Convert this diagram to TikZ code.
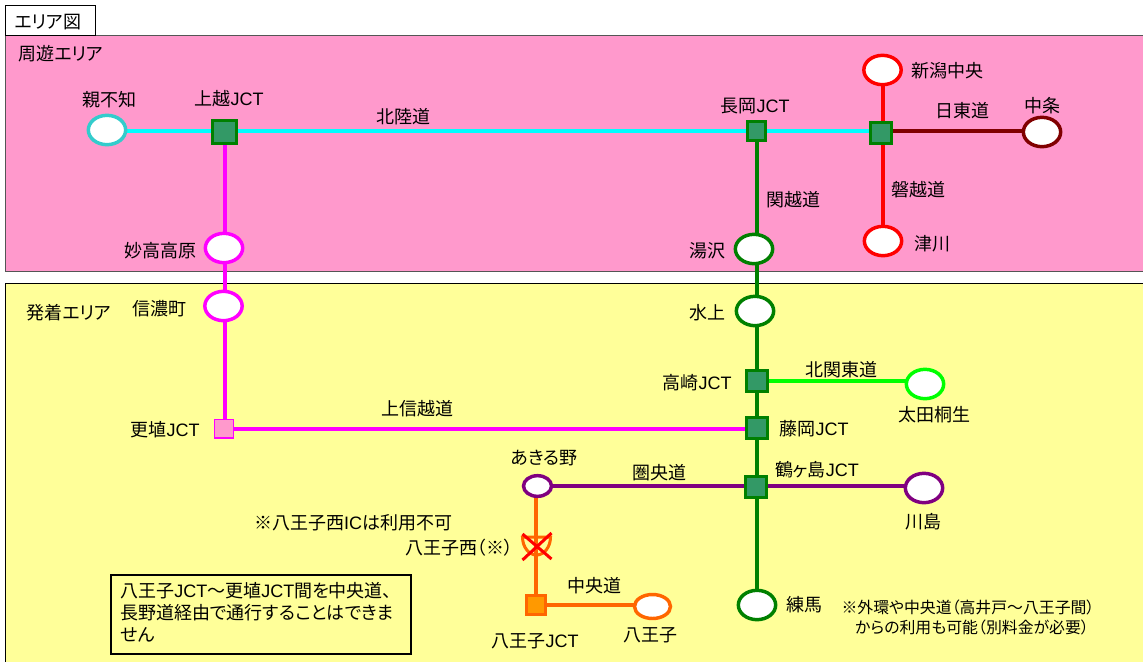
\documentclass[tikz,border=0pt]{standalone}
\usepackage{fontspec}
\setmainfont[RawFeature=+palt]{Noto Sans CJK JP}
\newfontfamily\latinfont{Liberation Sans}
\newcommand{\JCT}{{\latinfont JCT}}
\usetikzlibrary{calc,backgrounds,shapes.geometric}
\definecolor{areapink}{HTML}{FF99CC}
\definecolor{areayellow}{HTML}{FFFF99}
\definecolor{jctgreen}{HTML}{339966}
\definecolor{roadgreen}{HTML}{008000}
\definecolor{roadteal}{HTML}{33CCCC}
\definecolor{roadcyan}{HTML}{00FFFF}
\definecolor{roadmaroon}{HTML}{800000}
\definecolor{roadpurple}{HTML}{800080}
\definecolor{roadorange}{HTML}{FF6600}
\definecolor{roadmagenta}{HTML}{FF00FF}
\definecolor{roadlime}{HTML}{00FF00}
\definecolor{roadred}{HTML}{FF0000}
\definecolor{jctorange}{HTML}{FF9900}
\definecolor{bandline}{HTML}{555555}
\tikzset{
	ic/.style={ellipse, draw=#1, line width=2.6pt, fill=white, inner sep=0pt, minimum width=28pt, minimum height=22pt},
	jct/.style={rectangle, draw=roadgreen, line width=2.4pt, fill=jctgreen, inner sep=0pt, minimum size=#1},
	road/.style={draw=#1, line width=3pt},
	lbl/.style={inner sep=0pt, yshift=-0.6pt, font=\fontsize{13.5pt}{15pt}\selectfont},
	small/.style={inner sep=0pt, font=\fontsize{11.9pt}{13pt}\selectfont}
}
\begin{document}
\begin{tikzpicture}[x=0.75pt,y=-0.75pt]
	\useasboundingbox (0,0) rectangle (1143,661);
	% interchanges
	\node (oyashirazu) at (107,130) [ic=roadteal] {};
	\node (joetsu) at (224.5,132) [jct=17.5pt] {};
	\node (nagaoka) at (756.5,131) [jct=14pt] {};
	\node (bandai) at (881,133) [jct=16pt] {};
	\node (niigata) at (882.5,70) [ic=roadred] {};
	\node (tsugawa) at (883,241) [ic=roadred] {};
	\node (nakajo) at (1042,132) [ic=roadmaroon] {};
	\node (myoko) at (224,248) [ic=roadmagenta] {};
	\node (shinano) at (223.5,306) [ic=roadmagenta] {};
	\node (kohshoku) at (224,428.5) [rectangle, draw=roadmagenta, line width=1pt, fill=areapink, inner sep=0pt, minimum size=14pt] {};
	\node (yuzawa) at (754,249) [ic=roadgreen] {};
	\node (minakami) at (755,311) [ic=roadgreen] {};
	\node (takasaki) at (757,381) [jct=15.5pt] {};
	\node (fujioka) at (757,428) [jct=15.5pt] {};
	\node (tsurugashima) at (756,487) [jct=15.5pt] {};
	\node (nerima) at (757,605) [ic=roadgreen] {};
	\node (ota) at (925,384) [ic=roadlime] {};
	\node (kawajima) at (924,488) [ic=roadpurple] {};
	\node (akiruno) at (537.5,486) [ic=roadpurple, minimum width=21pt, minimum height=15.5pt] {};
	\node (hachiojijct) at (536,605) [rectangle, draw=roadorange, line width=2.4pt, fill=jctorange, inner sep=0pt, minimum size=14pt] {};
	\node (hachioji) at (652.5,606.5) [ic=roadorange, minimum width=27pt, minimum height=18pt] {};
	\coordinate (hachiojiw) at (536.5,537);
	% area bands and roads go under the interchanges
	\begin{scope}[on background layer]
		\node (pinkband) at (581,153) [rectangle, draw=bandline, line width=0.75pt, fill=areapink, inner sep=0pt, minimum width=864pt, minimum height=177pt] {};
		\node (yellowband) at (581,476.5) [rectangle, draw=black, line width=0.75pt, fill=areayellow, inner sep=0pt, minimum width=864pt, minimum height=290pt] {};
		\node (tab) at (50,20.5) [rectangle, draw=black, line width=0.75pt, fill=white, inner sep=0pt, minimum width=67.5pt, minimum height=22pt] {};
		\draw [road=roadcyan] (oyashirazu.center |- nagaoka.center) -- (bandai.center |- nagaoka.center);
		\draw [road=roadmaroon] (bandai.center |- nagaoka.center) -- (nakajo.center |- nagaoka.center);
		\draw [road=roadred] (niigata.center) -- (niigata.center |- tsugawa.center);
		\draw [road=roadmagenta] (joetsu.center) -- (joetsu.center |- kohshoku.center);
		\draw [road=roadmagenta] (kohshoku.center) -- (kohshoku.center -| fujioka.center);
		\draw [road=roadgreen] (nagaoka.center) -- (nagaoka.center |- nerima.center);
		\draw [road=roadlime] (takasaki.center) -- (takasaki.center -| ota.center);
		\draw [road=roadpurple] (akiruno.center) -- (akiruno.center -| kawajima.center);
		\draw [road=roadorange] (hachiojijct.center |- akiruno.center) -- (hachiojijct.center);
		\draw [road=roadorange] (hachiojijct.center) -- (hachiojijct.center -| hachioji.center);
	\end{scope}
	% closed interchange
	\draw [road=roadorange, line width=2.25pt] (hachiojiw) ++(-14,0) -- ++(28,0) arc [start angle=0, end angle=180, x radius=14, y radius=18] -- cycle;
	\draw [roadred, line width=2.25pt] ($(hachiojiw)+(-14,23)$) -- ($(hachiojiw)+(15,-4)$);
	\draw [roadred, line width=2.25pt] ($(hachiojiw)+(-14,-3)$) -- ($(hachiojiw)+(15,22)$);
	% labels
	\foreach \name/\x/\y/\txt in {
		ltab/48/21/エリア図, lpink/61/53/周遊エリア, loyashirazu/109/99/親不知, ljoetsu/229/98/上越\JCT,
		lhokuriku/403/116/北陸道, lnagaoka/755/105/長岡\JCT, lniigata/947/70/新潟中央, lnitto/962/110/日東道,
		lnakajo/1042/105/中条, lbanetsu/918/189/磐越道, lkanetsu/793/199/関越道, ltsugawa/932/243/津川,
		lyuzawa/707/250/湯沢, lmyoko/160/250/妙高高原, lshinano/159/308/信濃町, lyellow/69/312/発着エリア,
		lminakami/707/312/水上, ltakasaki/697/382/高崎\JCT, lkitakanto/841/369/北関東道, lota/934/414/太田桐生,
		ljoshinetsu/417/408/上信越道, lkohshoku/165/429/更埴\JCT, lfujioka/814/428/藤岡\JCT, ltsurugashima/817/469/鶴ヶ島\JCT,
		lkenodo/659/472/圏央道, lakiruno/544/457/あきる野, lkawajima/923/521/川島, lclosed/353/522/※八王子西{\latinfont IC}は利用不可,
		lhachiojiw/459/547/八王子西（※）, lchuo/594/585/中央道, lhachiojijct/535/640/八王子\JCT, lhachioji/650/634/八王子,
		lnerima/804/604/練馬}
		\node (\name) at (\x,\y) [lbl] {\txt};
	\node (notebox) at (260.5,614.5) [rectangle, draw=black, line width=1.5pt, fill=areayellow, inner sep=0pt, minimum width=225pt, minimum height=59.5pt] {};
	\node (noteone) at (120,590) [lbl, anchor=west] {八王子\JCT～更埴\JCT 間を中央道、};
	\node (notetwo) at (120,612) [lbl, anchor=west] {長野道経由で通行することはできま};
	\node (notethree) at (120,634) [lbl, anchor=west] {せん};
	\node (extraone) at (968,607) [small] {※外環や中央道（高井戸～八王子間）};
	\node (extratwo) at (972,627) [small] {からの利用も可能（別料金が必要）};
\end{tikzpicture}
\end{document}
